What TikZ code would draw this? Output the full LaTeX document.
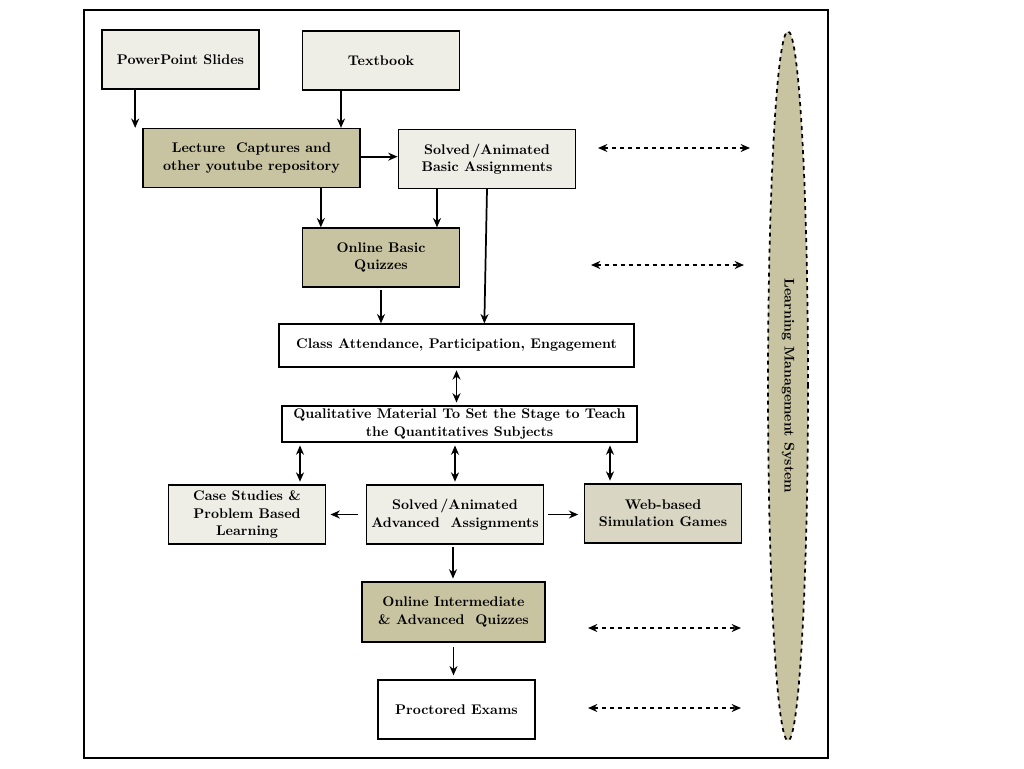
\documentclass[tikz,border=0pt]{standalone}
\usetikzlibrary{arrows.meta,shapes.geometric}
\definecolor{khaki}{RGB}{200,195,160}
\definecolor{pale}{RGB}{238,237,230}
\definecolor{webgray}{RGB}{218,214,196}
\tikzset{
  box/.style={draw, line width=1.2pt, font=\fontsize{10.5}{13}\selectfont\bfseries, align=center, inner sep=2pt},
  arr/.style={-{Stealth[length=7pt,width=6pt]}, line width=1.3pt},
  darr/.style={{Stealth[length=7pt,width=6pt]}-{Stealth[length=7pt,width=6pt]}, line width=1.3pt},
  lms/.style={{Stealth[length=7pt,width=6pt]}-{Stealth[length=7pt,width=6pt]}, line width=1.3pt, dashed}
}
\begin{document}
\begin{tikzpicture}[x=0.75pt,y=-0.75pt]
    \useasboundingbox (0,0) rectangle (1024,768);

    % Frame
    \draw[line width=2pt] (84,10) rectangle (828,758);

    % Sources
    \node[box, fill=pale, minimum width=118pt, minimum height=44pt] (ppt) at (180.5,59.5) {PowerPoint Slides};
    \node[box, fill=pale, minimum width=118pt, minimum height=44pt] (textbook) at (381,60.5) {Textbook};

    % Basic level
    \node[box, fill=khaki, minimum width=163pt, minimum height=44pt] (lecture) at (251.5,158) {Lecture\ \ Captures and\\ other youtube repository};
    \node[box, fill=pale, minimum width=133pt, minimum height=44pt] (basic) at (487,159) {Solved\,/Animated\\ Basic Assignments};
    \node[box, fill=khaki, minimum width=118pt, minimum height=44pt] (quiz) at (381,257.5) {Online Basic\\ Quizzes};

    % Class
    \node[box, fill=white, minimum width=266pt, minimum height=32pt] (class) at (456.5,345.5) {Class Attendance, Participation, Engagement};
    \node[box, fill=white, minimum width=266pt, minimum height=27pt] (qual) at (459.5,424) {Qualitative Material To Set the Stage to Teach\\ the Quantitatives Subjects};

    % Advanced level
    \node[box, fill=pale, minimum width=118pt, minimum height=44pt] (case) at (247,514.5) {Case Studies \&\\ Problem Based\\ Learning};
    \node[box, fill=pale, minimum width=133pt, minimum height=44pt] (adv) at (455,514.5) {Solved\,/Animated\\ Advanced\ \ Assignments};
    \node[box, fill=webgray, minimum width=118pt, minimum height=44pt] (web) at (663,513.5) {Web-based\\ Simulation Games};
    \node[box, fill=khaki, minimum width=137pt, minimum height=45pt] (inter) at (453.5,612) {Online Intermediate\\ \& Advanced\ \ Quizzes};
    \node[box, fill=white, minimum width=118pt, minimum height=44pt] (exam) at (456.5,709.5) {Proctored Exams};

    % Learning management system
    \node[ellipse, draw, dashed, line width=1.3pt, fill=khaki, minimum width=30pt, minimum height=532pt, inner sep=0pt] (lms) at (788,386) {};
    \node[rotate=-90, font=\fontsize{10.5}{13}\selectfont\bfseries] (lmslabel) at (lms.center) {Learning Management System};

    % Connections
    \draw[arr] ([xshift=-34pt]ppt.south) -- ([xshift=-34pt]ppt.south |- lecture.north);
    \draw[arr] ([xshift=-30pt]textbook.south) -- ([xshift=-30pt]textbook.south |- lecture.north);
    \draw[arr] ([yshift=1pt]lecture.east) -- ([yshift=1pt]lecture.east -| basic.west);
    \draw[arr] ([xshift=52pt]lecture.south) -- ([xshift=52pt]lecture.south |- quiz.north);
    \draw[arr] ([xshift=-37.5pt]basic.south) -- ([xshift=-37.5pt]basic.south |- quiz.north);
    \draw[arr] ([xshift=0pt]basic.south) -- ([xshift=-2pt]basic.south |- class.north);
    \draw[arr, shorten <=2pt] (quiz.south) -- (quiz.south |- class.north);
    \draw[darr, shorten <=2pt, shorten >=2pt] (class.south) -- (class.south |- qual.north);
    \draw[darr, shorten <=2pt, shorten >=2pt] (case.north -| 300,0) -- (300,0 |- qual.south);
    \draw[darr, shorten <=2pt, shorten >=2pt] (adv.north) -- (adv.north |- qual.south);
    \draw[darr, shorten <=2pt, shorten >=2pt] (610,0 |- web.north) -- (610,0 |- qual.south);
    \draw[arr, shorten <=6pt, shorten >=3pt] (adv.west) -- (adv.west -| case.east);
    \draw[arr, shorten <=3pt, shorten >=4pt] (adv.east) -- (adv.east -| web.west);
    \draw[arr, shorten <=2pt, shorten >=2pt] ([xshift=-1.5pt]adv.south) -- ([xshift=-1.5pt]adv.south |- inter.north);
    \draw[arr, shorten <=3pt, shorten >=3pt] (inter.south) -- (inter.south |- exam.north);

    % LMS links
    \draw[lms] (598,148) coordinate (b1) -- (750,148) coordinate (l1);
    \draw[lms] (591,265) coordinate (b2) -- (744,265) coordinate (l2);
    \draw[lms] (588,628) coordinate (b3) -- (741,628) coordinate (l3);
    \draw[lms] (588,708) coordinate (b4) -- (741,708) coordinate (l4);
\end{tikzpicture}
\end{document}
